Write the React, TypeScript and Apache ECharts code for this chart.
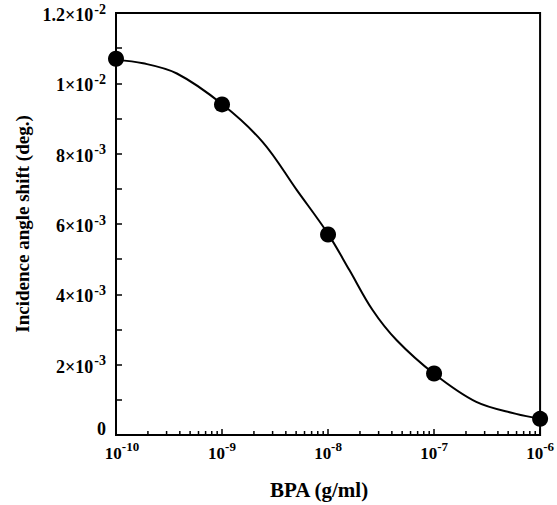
import React, { useEffect, useRef } from "react";
import * as echarts from "echarts";

// Measured points (BPA concentration g/ml, incidence angle shift deg.)
const bpaConc = [1e-10, 1e-9, 1e-8, 1e-7, 1e-6];
const angleShift = [0.0107, 0.0094, 0.0057, 0.00175, 0.00046];

// Fitted curve
const curveConc = [
  1e-10, 1.8e-10, 3.75e-10, 1e-9, 2.42e-9, 5.06e-9, 1e-8, 1.59e-8, 2.62e-8,
  4.42e-8, 1e-7, 2.5e-7, 5.94e-7, 1e-6,
];
const curveShift = [
  0.01066, 0.01057, 0.01028, 0.00941, 0.00833, 0.00697, 0.00572, 0.00469,
  0.00356, 0.0027, 0.00174, 0.00094, 0.0006, 0.00046,
];

// Tick labels
const xTickExponents = ["-10", "-9", "-8", "-7", "-6"];
const yTickValues = [0, 0.002, 0.004, 0.006, 0.008, 0.01, 0.012];
const yTickMantissa = ["0", "2×10", "4×10", "6×10", "8×10", "1×10", "1.2×10"];
const yTickExponent = ["", "-3", "-3", "-3", "-3", "-2", "-2"];
const xMinorMultipliers = [2, 3, 4, 5, 6, 7, 8, 9];
const xDecades = [1e-10, 1e-9, 1e-8, 1e-7];

const FONT = "'Liberation Serif', 'Times New Roman', serif";

export default function App() {
  const ref = useRef<HTMLDivElement>(null);
  useEffect(() => {
    if (!ref.current) return;
    const chart = echarts.init(ref.current, undefined, { renderer: "svg" });
    const minorTicks: number[][] = [];
    xDecades.forEach((d) =>
      xMinorMultipliers.forEach((m) => minorTicks.push([m * d, 0]))
    );
    const base = { fontFamily: FONT, fontWeight: "bold", color: "#000" };
    const xRich = {
      m: { ...base, fontSize: 17, lineHeight: 22, verticalAlign: "bottom" },
      f: { ...base, fontSize: 17, lineHeight: 22, verticalAlign: "bottom", padding: [0, 0, 0, 12] },
      s: { ...base, fontSize: 13, lineHeight: 13, verticalAlign: "top" },
    };
    const yRich = {
      m: { ...base, fontSize: 18, lineHeight: 22, verticalAlign: "bottom" },
      z: { ...base, fontSize: 18, lineHeight: 22, verticalAlign: "bottom", padding: [0, 0, 8, 0] },
      s: { ...base, fontSize: 14, lineHeight: 14, verticalAlign: "top", padding: [0, 0, 0, 1] },
    };
    chart.setOption({
      animation: false,
      grid: {
        left: 116,
        right: 16,
        top: 13,
        bottom: 70,
        show: true,
        borderColor: "#000",
        borderWidth: 2,
      },
      xAxis: {
        type: "log",
        logBase: 10,
        min: 1e-10,
        max: 1e-6,
        name: "BPA (g/ml)",
        nameLocation: "middle",
        nameGap: 44,
        nameTextStyle: {
          fontFamily: FONT,
          fontWeight: "bold",
          fontSize: 21,
          color: "#000",
          padding: [0, 18, 0, 0],
        },
        axisLine: { lineStyle: { color: "#000", width: 2 } },
        axisTick: { inside: true, length: 6, lineStyle: { color: "#000", width: 1.5 } },
        splitLine: { show: false },
        axisLabel: {
          margin: 5,
          formatter: (v: number) => {
            const i = Math.round(Math.log10(v)) + 10;
            return `{${i === 0 ? "f" : "m"}|10}{s|${xTickExponents[i]}}`;
          },
          rich: xRich,
        },
      },
      yAxis: {
        type: "value",
        min: 0,
        max: 0.012,
        interval: 0.002,
        name: "Incidence angle shift (deg.)",
        nameLocation: "middle",
        nameGap: 84,
        nameRotate: 90,
        nameTextStyle: {
          fontFamily: FONT,
          fontWeight: "bold",
          fontSize: 19,
          color: "#000",
        },
        axisLine: { show: true, lineStyle: { color: "#000", width: 2 } },
        axisTick: { inside: true, length: 6, lineStyle: { color: "#000", width: 1.5 } },
        minorTick: { show: true, splitNumber: 2, length: 6, lineStyle: { color: "#000", width: 1.5 } },
        splitLine: { show: false },
        axisLabel: {
          margin: 10,
          formatter: (v: number) => {
            const i = yTickValues.findIndex((t) => Math.abs(t - v) < 1e-9);
            if (i < 0) return "";
            return yTickExponent[i]
              ? `{m|${yTickMantissa[i]}}{s|${yTickExponent[i]}}`
              : `{z|${yTickMantissa[i]}}`;
          },
          rich: yRich,
        },
      },
      series: [
        {
          type: "custom",
          silent: true,
          clip: false,
          data: minorTicks,
          renderItem: (params: any, api: any) => {
            const p = api.coord([api.value(0), 0]);
            return {
              type: "line",
              shape: { x1: p[0], y1: p[1], x2: p[0], y2: p[1] - 4 },
              style: { stroke: "#000", lineWidth: 1.5 },
            };
          },
        },
        {
          type: "line",
          data: curveConc.map((c, i) => [c, curveShift[i]]),
          showSymbol: false,
          smooth: 0.35,
          clip: false,
          lineStyle: { color: "#000", width: 2 },
          silent: true,
        },
        {
          type: "scatter",
          data: bpaConc.map((c, i) => [c, angleShift[i]]),
          symbol: "circle",
          symbolSize: 16,
          clip: false,
          itemStyle: { color: "#000", opacity: 1 },
        },
      ],
    });
    return () => chart.dispose();
  }, []);
  return <div ref={ref} style={{ width: 557, height: 505, position: "absolute", left: 0, top: 0 }} />;
}
